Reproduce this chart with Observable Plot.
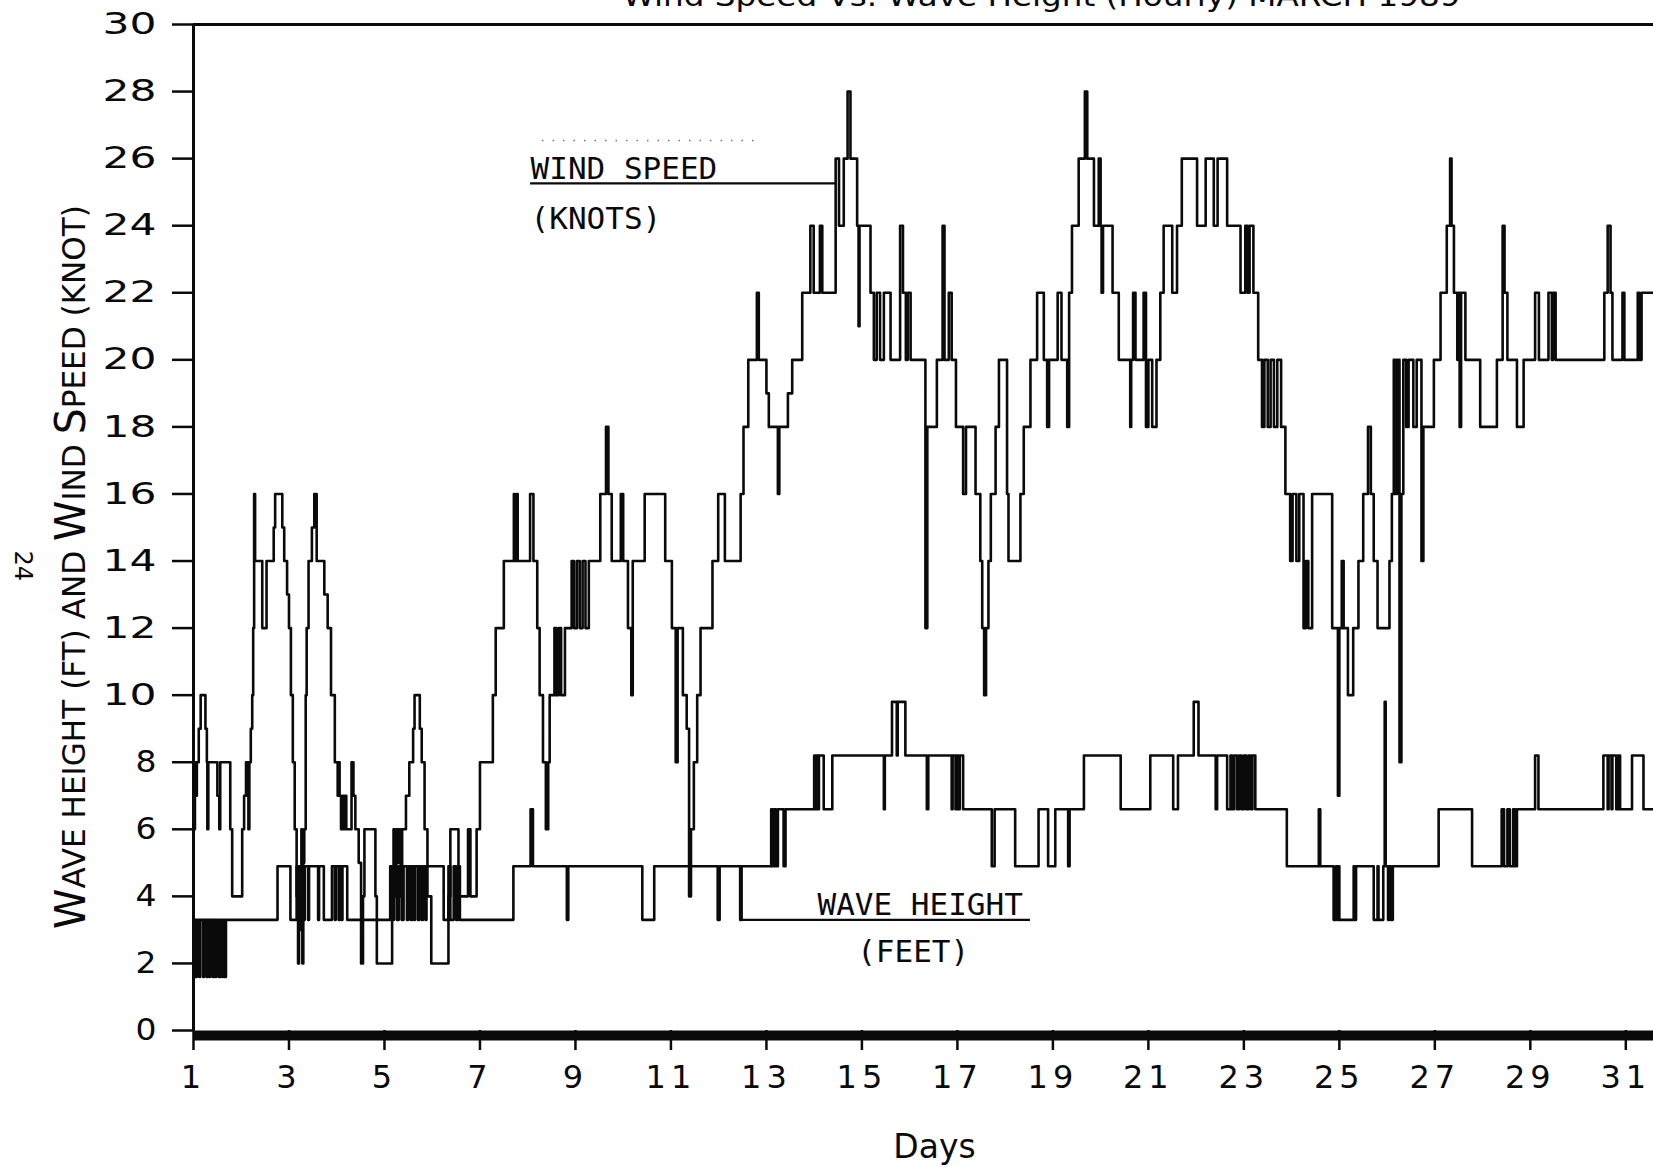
<!DOCTYPE html>
<html><head><meta charset="utf-8">
<script src="https://cdn.jsdelivr.net/npm/d3@7"></script>
<script src="https://cdn.jsdelivr.net/npm/@observablehq/plot@0.6"></script>
<style>html,body{margin:0;padding:0;background:#fff;overflow:hidden}</style>
</head><body><div id="chart"></div>
<script>
// Hourly-ish step readings, March 1989 (day of month, decimal)
const windDay = [1.00,1.02,1.03,1.05,1.07,1.11,1.15,1.25,1.28,1.29,1.31,1.50,1.54,1.56,1.77,1.81,2.02,2.06,2.10,2.15,2.17,2.20,2.23,2.25,2.27,2.29,2.44,2.53,2.68,2.71,2.86,2.90,2.96,3.00,3.04,3.08,3.12,3.16,3.19,3.21,3.24,3.26,3.28,3.30,3.32,3.35,3.37,3.41,3.48,3.53,3.58,3.74,3.81,3.88,3.96,4.02,4.04,4.06,4.09,4.12,4.14,4.17,4.20,4.31,4.35,4.39,4.46,4.51,4.55,4.58,4.81,4.84,5.16,5.19,5.22,5.25,5.28,5.31,5.34,5.37,5.45,5.52,5.60,5.63,5.74,5.78,5.84,5.90,5.98,6.34,6.38,6.55,6.75,6.80,6.93,7.00,7.27,7.33,7.50,7.71,7.73,7.77,7.79,8.05,8.12,8.20,8.25,8.32,8.38,8.43,8.46,8.56,8.60,8.65,8.70,8.78,8.92,8.97,9.03,9.09,9.15,9.21,9.28,9.52,9.64,9.69,9.76,9.95,10.00,10.10,10.17,10.20,10.45,10.88,11.02,11.10,11.14,11.25,11.33,11.38,11.42,11.48,11.55,11.62,11.87,11.99,12.13,12.46,12.52,12.62,12.80,12.84,13.00,13.05,13.24,13.27,13.45,13.54,13.75,13.92,13.99,14.12,14.17,14.45,14.52,14.62,14.70,14.76,14.90,14.93,14.95,15.18,15.25,15.31,15.38,15.46,15.60,15.80,15.86,15.92,15.96,16.02,16.33,16.37,16.57,16.69,16.73,16.82,16.88,16.97,17.12,17.18,17.38,17.48,17.52,17.56,17.60,17.65,17.70,17.80,17.87,18.04,18.07,18.32,18.39,18.53,18.67,18.81,18.88,18.92,19.10,19.18,19.30,19.34,19.40,19.54,19.67,19.72,19.86,19.96,20.00,20.02,20.05,20.25,20.38,20.62,20.64,20.68,20.73,20.90,20.95,21.00,21.08,21.17,21.25,21.32,21.50,21.60,21.70,22.02,22.20,22.37,22.45,22.65,22.93,23.03,23.08,23.12,23.20,23.30,23.38,23.43,23.50,23.56,23.63,23.70,23.78,23.87,23.97,24.02,24.10,24.16,24.25,24.30,24.35,24.43,24.85,24.97,25.00,25.05,25.09,25.18,25.29,25.40,25.50,25.60,25.66,25.72,25.80,26.05,26.10,26.14,26.18,26.21,26.26,26.30,26.34,26.40,26.45,26.55,26.62,26.72,26.76,26.98,27.12,27.25,27.32,27.35,27.40,27.47,27.50,27.52,27.55,27.64,27.95,28.30,28.42,28.46,28.52,28.72,28.86,29.10,29.18,29.38,29.45,29.48,29.53,30.55,30.62,30.68,30.72,30.93,30.97,31.25,31.28,31.33,31.58];
const windKnots = [8,6,8,7,8,9,10,9,8,6,8,7,6,8,6,4,6,7,8,6,8,9,10,12,16,14,12,14,15,16,15,14,13,12,10,8,6,4,2,4,3,6,2,5,6,10,12,14,15,16,14,13,12,10,8,7,8,7,6,7,6,7,6,8,7,6,5,2,4,6,4,2,4,6,4,6,5,6,4,6,7,8,9,10,9,8,6,4,2,4,6,4,6,4,6,8,10,12,14,16,14,16,14,16,14,12,10,8,6,8,10,12,10,12,10,12,14,12,14,12,14,12,14,16,18,16,14,16,14,12,10,14,16,14,12,8,12,10,9,4,6,8,10,12,14,16,14,16,18,20,22,20,19,18,16,18,19,20,22,24,22,24,22,26,24,26,28,26,24,21,24,22,20,22,20,22,20,24,22,20,22,20,12,18,20,24,20,22,20,18,16,18,16,14,12,10,12,14,16,18,20,16,14,16,18,20,22,20,18,20,22,20,18,22,24,26,28,26,24,26,24,22,24,22,20,18,20,22,20,22,18,20,18,20,22,24,22,24,26,24,26,24,26,24,22,24,22,24,22,20,18,20,18,20,18,20,18,16,14,16,14,16,12,14,12,16,12,7,12,14,12,10,12,14,16,18,16,14,12,14,16,20,16,20,8,16,20,18,20,18,20,14,18,20,22,24,26,24,22,20,22,18,22,20,18,20,24,22,20,18,20,22,20,22,20,22,20,22,24,22,20,22,20,22,20,22,22];

const waveDay = [1.00,1.01,1.03,1.05,1.07,1.12,1.14,1.20,1.22,1.27,1.29,1.33,1.35,1.40,1.42,1.46,1.48,1.53,1.56,1.60,1.62,1.65,1.68,2.76,3.03,3.16,3.19,3.22,3.30,3.33,3.40,3.42,3.61,3.63,3.73,3.90,3.96,3.98,4.04,4.06,4.10,4.12,4.22,5.12,5.16,5.20,5.26,5.30,5.36,5.40,5.47,5.50,5.55,5.58,5.62,5.64,5.70,5.73,5.78,5.81,5.86,5.88,6.24,6.34,6.38,6.45,6.50,6.54,6.58,7.70,8.06,8.11,8.82,8.85,10.40,10.65,11.98,12.02,12.45,12.48,13.10,13.13,13.16,13.20,13.24,13.36,13.40,14.00,14.03,14.05,14.08,14.10,14.20,14.38,15.46,15.48,15.63,15.73,15.75,15.91,16.36,16.39,16.88,16.90,16.96,16.98,17.02,17.05,17.12,17.72,17.78,18.21,18.70,18.90,19.05,19.32,19.35,19.65,20.42,21.04,21.52,21.62,21.95,22.05,22.41,22.44,22.65,22.72,22.76,22.80,22.86,22.90,22.95,23.00,23.05,23.10,23.15,23.18,23.24,23.90,24.57,24.60,24.88,24.93,24.96,24.98,25.00,25.30,25.32,25.35,25.72,25.80,25.82,25.92,25.95,25.97,26.02,26.05,26.08,26.12,27.08,27.78,28.40,28.45,28.52,28.57,28.64,28.68,28.72,29.10,29.17,30.53,30.62,30.64,30.70,30.72,30.80,30.84,30.88,31.13,31.37,31.58];
const waveFeet = [3.3,1.6,3.3,1.6,3.3,1.6,3.3,1.6,3.3,1.6,3.3,1.6,3.3,1.6,3.3,1.6,3.3,1.6,3.3,1.6,3.3,1.6,3.3,4.9,3.3,4.9,3.3,4.9,3.3,4.9,3.3,4.9,3.3,4.9,3.3,4.9,3.3,4.9,3.3,4.9,3.3,4.9,3.3,4.9,3.3,4.9,3.3,4.9,3.3,4.9,3.3,4.9,3.3,4.9,3.3,4.9,3.3,4.9,3.3,4.9,3.3,4.9,3.3,4.9,3.3,4.9,3.3,4.9,3.3,4.9,6.6,4.9,3.3,4.9,3.3,4.9,3.3,4.9,3.3,4.9,6.6,4.9,6.6,4.9,6.6,4.9,6.6,8.2,6.6,8.2,6.6,8.2,6.6,8.2,6.6,8.2,9.8,8.2,9.8,8.2,6.6,8.2,6.6,8.2,6.6,8.2,6.6,8.2,6.6,4.9,6.6,4.9,6.6,4.9,6.6,4.9,6.6,8.2,6.6,8.2,6.6,8.2,9.8,8.2,6.6,8.2,6.6,8.2,6.6,8.2,6.6,8.2,6.6,8.2,6.6,8.2,6.6,8.2,6.6,4.9,6.6,4.9,3.3,4.9,3.3,4.9,3.3,4.9,3.3,4.9,3.3,4.9,3.3,4.9,9.8,4.9,3.3,4.9,3.3,4.9,6.6,4.9,6.6,4.9,6.6,4.9,6.6,4.9,6.6,8.2,6.6,8.2,6.6,8.2,6.6,8.2,6.6,8.2,6.6,8.2,6.6,6.6];

const dayTicks = [1,3,5,7,9,11,13,15,17,19,21,23,25,27,29,31];
const valueTicks = [0,2,4,6,8,10,12,14,16,18,20,22,24,26,28,30];

const titleText = "Wind Speed Vs. Wave Height (Hourly) MARCH 1989";
const yLabelParts = [["W",1],["AVE HEIGHT (FT) AND ",0],["W",1],["IND ",0],["S",1],["PEED (KNOT)",0]];

const wind = windDay.map((d, i) => ({day: d, value: windKnots[i]}));
const wave = waveDay.map((d, i) => ({day: d, value: waveFeet[i]}));

const ink = "#0a0a0a";
const xEnd = 31.58;
const mono = "DejaVu Sans Mono";

const chart = Plot.plot({
  width: 1653, height: 1167,
  marginLeft: 193, marginRight: 0, marginTop: 24, marginBottom: 137,
  x: {domain: [1, xEnd]},
  y: {domain: [0, 30]},
  style: {background: "white", color: ink, fontFamily: "DejaVu Sans", overflow: "hidden"},
  marks: [
    Plot.axisY({ticks: valueTicks, tickSize: 21, tickPadding: 16, fontSize: 30, strokeWidth: 2.5, label: null}),
    Plot.axisX({ticks: dayTicks, tickSize: 20, tickPadding: 15, fontSize: 32, strokeWidth: 2.5, label: null}),
    Plot.ruleY([30], {x1: 1, x2: xEnd, strokeWidth: 3, stroke: ink}),
    Plot.ruleX([1], {y1: 0, y2: 30, strokeWidth: 3, stroke: ink}),
    Plot.ruleY([0], {x1: 1, x2: xEnd, strokeWidth: 10, dy: 5, stroke: ink}),
    Plot.line(wind, {x: "day", y: "value", curve: "step-after", stroke: ink, strokeWidth: 2.6}),
    Plot.line(wave, {x: "day", y: "value", curve: "step-after", stroke: ink, strokeWidth: 2.6}),
    // annotations
    Plot.ruleY([26.54], {x1: 8.31, x2: 12.77, stroke: "#777", strokeWidth: 1.5, strokeDasharray: "1.5 9"}),
    Plot.ruleY([25.26], {x1: 8.06, x2: 14.45, stroke: ink, strokeWidth: 2.2}),
    Plot.text(["WIND SPEED"], {x: 8.06, y: 25.40, text: d => d, textAnchor: "start", lineAnchor: "bottom", fontFamily: mono, fontSize: 31, fill: ink}),
    Plot.text(["(KNOTS)"], {x: 8.06, y: 23.89, text: d => d, textAnchor: "start", lineAnchor: "bottom", fontFamily: mono, fontSize: 31, fill: ink}),
    Plot.ruleY([3.3], {x1: 12.46, x2: 18.53, stroke: ink, strokeWidth: 2.2}),
    Plot.text(["WAVE HEIGHT"], {x: 14.07, y: 3.45, text: d => d, textAnchor: "start", lineAnchor: "bottom", fontFamily: mono, fontSize: 31, fill: ink}),
    Plot.text(["(FEET)"], {x: 14.9, y: 2.03, text: d => d, textAnchor: "start", lineAnchor: "bottom", fontFamily: mono, fontSize: 31, fill: ink}),
    Plot.text(["Days"], {frameAnchor: "bottom", dx: 11, dy: 127, text: d => d, lineAnchor: "bottom", fontSize: 33, fill: ink}),
    Plot.text([titleText], {frameAnchor: "top", dx: 118, dy: -19, text: d => d, lineAnchor: "bottom", fontSize: 28, fill: ink}),
    Plot.text(["24"], {frameAnchor: "left", dx: -171, dy: 23, rotate: 90, text: d => d, fontSize: 24, fill: ink})
  ]
});

document.getElementById("chart").appendChild(chart);
const svg = d3.select(chart);

// widen y tick labels like the plotter's extended digits
svg.selectAll('g[aria-label="y-axis tick label"] text').each(function() {
  const n = this.textContent.length;
  d3.select(this).attr("textLength", n === 1 ? 21 : 54).attr("lengthAdjust", "spacingAndGlyphs");
});
svg.selectAll('g[aria-label="x-axis tick label"] text').style("letter-spacing", "5px");
svg.selectAll("text").filter(function() { return this.textContent === titleText; })
  .attr("textLength", 838).attr("lengthAdjust", "spacingAndGlyphs");

// rotated y-axis title with larger initial capitals
const yl = svg.append("text")
  .attr("transform", "translate(85,567) rotate(-90)")
  .attr("text-anchor", "middle")
  .attr("fill", ink)
  .attr("font-family", "DejaVu Sans")
  .attr("textLength", 724)
  .attr("lengthAdjust", "spacingAndGlyphs");
yLabelParts.forEach(([t, big]) => yl.append("tspan").attr("font-size", big ? 42 : 32).text(t));
</script>
</body></html>
